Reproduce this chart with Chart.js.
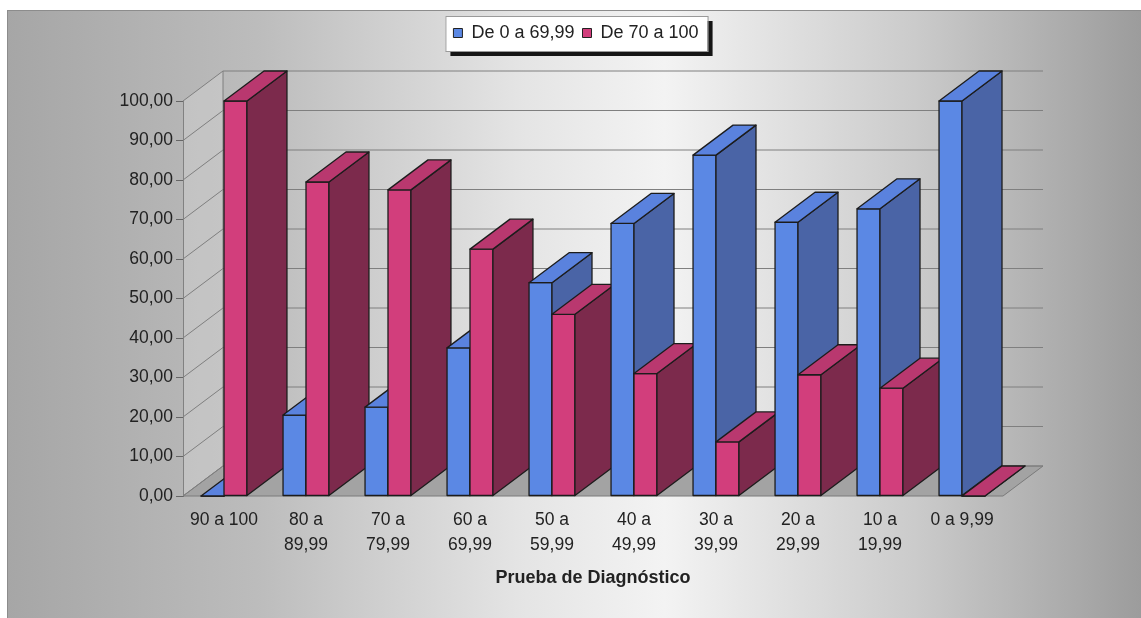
<!DOCTYPE html>
<html>
<head>
<meta charset="utf-8">
<script src="https://cdn.jsdelivr.net/npm/chart.js@4/dist/chart.umd.min.js"></script>
<style>
  html, body { margin: 0; padding: 0; background: #fff; }
  #wrap { width: 1141px; height: 618px; }
</style>
</head>
<body>
<div id="wrap"><canvas id="chart"></canvas></div>
<script>
// data (percent of students per score band)
const categories = [
  ['90 a 100'], ['80 a', '89,99'], ['70 a', '79,99'], ['60 a', '69,99'], ['50 a', '59,99'],
  ['40 a', '49,99'], ['30 a', '39,99'], ['20 a', '29,99'], ['10 a', '19,99'], ['0 a 9,99']
];
const seriesNames = ['De 0 a 69,99', 'De 70 a 100'];
const lowScores = [0, 20.5, 22.5, 37.5, 54, 69, 86.3, 69.3, 72.7, 100];
const highScores = [100, 79.5, 77.5, 62.5, 46, 31, 13.7, 30.7, 27.3, 0];
const yMax = 100;
const yStep = 10;

const FONT = "'Liberation Sans', Arial, sans-serif";
const DX = 40, DY = -30; // 3d depth of walls and columns

const faces = [
  { front: '#5b88e4', side: '#4a64a6', top: '#5a82de' },
  { front: '#d23e7c', side: '#7c2a4c', top: '#b9386f' },
];

function poly(ctx, pts) {
  ctx.beginPath();
  ctx.moveTo(pts[0][0], pts[0][1]);
  for (let i = 1; i < pts.length; i++) ctx.lineTo(pts[i][0], pts[i][1]);
  ctx.closePath();
}

function drawColumn(ctx, l, r, t, b, c) {
  ctx.strokeStyle = '#1c1c1c';
  ctx.lineWidth = 1.3;
  ctx.lineJoin = 'round';
  ctx.fillStyle = c.front;
  poly(ctx, [[l, t], [r, t], [r, b], [l, b]]);
  ctx.fill(); ctx.stroke();
  ctx.fillStyle = c.side;
  poly(ctx, [[r, t], [r + DX, t + DY], [r + DX, b + DY], [r, b]]);
  ctx.fill(); ctx.stroke();
  ctx.fillStyle = c.top;
  poly(ctx, [[l, t], [l + DX, t + DY], [r + DX, t + DY], [r, t]]);
  ctx.fill(); ctx.stroke();
}

// background, legend frame, walls and 3d columns
const excel3d = {
  id: 'excel3d',
  beforeDraw(chart) {
    const { ctx, width, height } = chart;
    ctx.save();
    ctx.fillStyle = '#ffffff';
    ctx.fillRect(0, 0, width, height);
    const g = ctx.createLinearGradient(7, 0, width, 0);
    g.addColorStop(0, '#a6a6a6');
    g.addColorStop(0.22, '#bcbcbc');
    g.addColorStop(0.45, '#e4e4e4');
    g.addColorStop(0.58, '#f3f3f3');
    g.addColorStop(0.8, '#cbcbcb');
    g.addColorStop(1, '#9c9c9c');
    ctx.fillStyle = g;
    ctx.fillRect(7, 10, width - 7, height - 10);
    ctx.strokeStyle = '#8c8c8c';
    ctx.lineWidth = 1;
    ctx.strokeRect(7.5, 10.5, width, height);

    const boxes = chart.legend && chart.legend.legendHitBoxes;
    if (boxes && boxes.length) {
      const first = boxes[0], last = boxes[boxes.length - 1];
      const bx = first.left - 8;
      const by = first.top - 8;
      const bw = last.left + last.width + 9 - bx;
      const bh = first.height + 17;
      ctx.fillStyle = '#161616';
      ctx.fillRect(bx + 5, by + 5, bw, bh);
      ctx.fillStyle = '#ffffff';
      ctx.fillRect(bx, by, bw, bh);
      ctx.strokeStyle = '#9a9a9a';
      ctx.strokeRect(bx + 0.5, by + 0.5, bw, bh);
    }
    ctx.restore();
  },
  beforeDatasetsDraw(chart) {
    const { ctx, chartArea: a, scales: { y } } = chart;
    ctx.save();
    ctx.lineWidth = 1;
    // left wall
    ctx.fillStyle = 'rgba(255,255,255,0.18)';
    poly(ctx, [[a.left, a.bottom], [a.left + DX, a.bottom + DY], [a.left + DX, a.top + DY], [a.left, a.top]]);
    ctx.fill();
    // floor
    ctx.fillStyle = '#a3a3a3';
    ctx.strokeStyle = '#7a7a7a';
    poly(ctx, [[a.left, a.bottom], [a.right, a.bottom], [a.right + DX, a.bottom + DY], [a.left + DX, a.bottom + DY]]);
    ctx.fill(); ctx.stroke();
    // gridlines on side and back walls
    ctx.strokeStyle = '#7f7f7f';
    y.ticks.forEach(t => {
      const py = y.getPixelForValue(t.value);
      ctx.beginPath();
      ctx.moveTo(a.left, py);
      ctx.lineTo(a.left + DX, py + DY);
      ctx.lineTo(a.right + DX, py + DY);
      ctx.stroke();
    });
    ctx.beginPath();
    ctx.moveTo(a.left + DX, a.bottom + DY);
    ctx.lineTo(a.left + DX, a.top + DY);
    ctx.stroke();

    const metas = chart.data.datasets.map((d, i) => chart.getDatasetMeta(i));
    for (let j = 0; j < categories.length; j++) {
      metas.forEach((meta, i) => {
        const bar = meta.data[j];
        if (!bar) return;
        const { x, y: top, base, width } = bar.getProps(['x', 'y', 'base', 'width'], true);
        drawColumn(ctx, x - width / 2, x + width / 2, top, base, faces[i]);
      });
    }
    ctx.restore();
    return false;
  }
};

const ctx = document.getElementById('chart');
new Chart(ctx, {
  type: 'bar',
  data: {
    labels: categories,
    datasets: [
      { label: seriesNames[0], data: lowScores, backgroundColor: faces[0].front, borderColor: '#222', borderWidth: 1 },
      { label: seriesNames[1], data: highScores, backgroundColor: faces[1].front, borderColor: '#222', borderWidth: 1 },
    ],
  },
  options: {
    responsive: true,
    maintainAspectRatio: false,
    animation: false,
    layout: { padding: { left: 19, right: 8, top: 16, bottom: 0 } },
    datasets: { bar: { categoryPercentage: 0.56, barPercentage: 1 } },
    plugins: {
      legend: {
        position: 'top',
        weight: 3000,
        labels: { boxWidth: 9, boxHeight: 9, padding: 8, color: '#222', font: { family: FONT, size: 18 } },
      },
      // empty title only keeps room for the back wall above the plot
      title: { display: true, text: '', padding: { top: 0, bottom: 37 }, font: { size: 10 } },
      tooltip: { enabled: false },
    },
    scales: {
      x: {
        grid: { display: false },
        border: { display: false },
        ticks: { color: '#222', padding: 4, font: { family: FONT, size: 17.5, lineHeight: 1.41 } },
        title: {
          display: true,
          text: 'Prueba de Diagnóstico',
          color: '#222',
          font: { family: FONT, size: 18, weight: 'bold' },
          padding: { top: 0, bottom: 29 },
        },
        afterFit: s => { s.height = 122; },
      },
      y: {
        min: 0,
        max: yMax,
        ticks: {
          stepSize: yStep,
          color: '#222',
          padding: 3,
          font: { family: FONT, size: 17.5 },
          callback: v => v.toFixed(2).replace('.', ','),
        },
        grid: { drawOnChartArea: false, tickLength: 7, color: '#666' },
        border: { color: '#666' },
        afterFit: s => { s.width = 164; },
      },
      y2: {
        position: 'right',
        ticks: { display: false },
        grid: { display: false },
        border: { display: false },
        afterFit: s => { s.width = 130; },
      },
    },
  },
  plugins: [excel3d],
});
</script>
</body>
</html>
